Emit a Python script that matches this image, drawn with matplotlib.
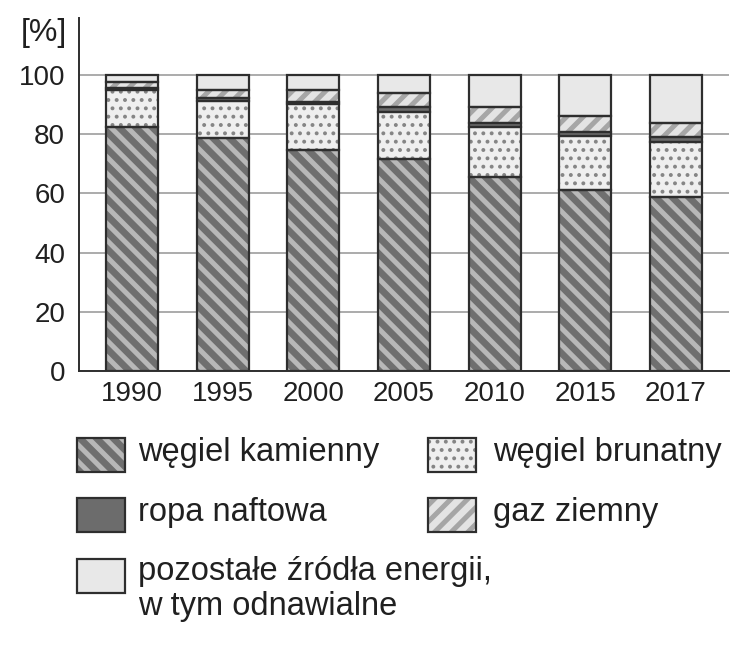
import numpy as np
import matplotlib
matplotlib.use("Agg")
import matplotlib.pyplot as plt
from matplotlib.patches import Rectangle

plt.rcParams['font.family'] = ['Liberation Sans', 'DejaVu Sans']

years = ['1990', '1995', '2000', '2005', '2010', '2015', '2017']
wegiel_kamienny = [82.3, 78.7, 74.7, 71.7, 65.4, 61.3, 58.7]
wegiel_brunatny = [12.7, 12.6, 15.4, 15.9, 17.2, 18.2, 18.8]
ropa_naftowa = [0.7, 0.8, 0.9, 1.5, 1.1, 1.4, 1.7]
gaz_ziemny = [2.0, 3.0, 3.9, 4.9, 5.6, 5.3, 4.7]
pozostale = [2.3, 4.9, 5.1, 6.0, 10.7, 13.8, 16.1]

labels = ['węgiel kamienny', 'węgiel brunatny', 'ropa naftowa', 'gaz ziemny',
          'pozostałe źródła energii,\nw tym odnawialne']

# (face, hatch colour, hatch, hatch linewidth)
styles = [
    ('#6f6f6f', '#b8b8b8', '\\\\', 3.6),
    ('#efefef', '#858585', '..', 1.6),
    ('#6c6c6c', '#6c6c6c', '', 1.0),
    ('#e4e4e4', '#a6a6a6', '//', 3.6),
    ('#e8e8e8', '#e8e8e8', '', 1.0),
]
edge = '#2e2e2e'
txt = '#202020'

fig = plt.figure(figsize=(7.46, 6.47), dpi=100)
ax = fig.add_axes([79 / 746, 1 - 371 / 647, 650 / 746, 353 / 647])

x = np.arange(len(years))
w = 0.575
series = [wegiel_kamienny, wegiel_brunatny, ropa_naftowa, gaz_ziemny, pozostale]
bottom = np.zeros(len(years))
for vals, (fc, hc, h, hlw) in zip(series, styles):
    plt.rcParams['hatch.linewidth'] = hlw
    ax.bar(x, vals, w, bottom=bottom, color=fc, edgecolor=hc, linewidth=0,
           hatch=h, zorder=2)
    ax.bar(x, vals, w, bottom=bottom, fill=False, edgecolor=edge,
           linewidth=1.6, zorder=3)
    bottom += np.array(vals)

ax.set_xlim(-0.585, 6.585)
ax.set_ylim(0, 119.3)
ax.set_yticks([0, 20, 40, 60, 80, 100])
ax.set_xticks(x)
ax.set_xticklabels(years)
ax.yaxis.grid(True, color='#ababab', linewidth=1.4, zorder=0)
ax.set_axisbelow(True)
for s in ['top', 'right']:
    ax.spines[s].set_visible(False)
for s in ['left', 'bottom']:
    ax.spines[s].set_color(edge)
    ax.spines[s].set_linewidth(1.4)
    ax.spines[s].set_zorder(4)
ax.tick_params(axis='y', length=0, pad=10, labelsize=20, labelcolor=txt)
ax.tick_params(axis='x', length=0, pad=7, labelsize=20, labelcolor=txt)

fig.text(67 / 746, 1 - 33 / 647, '[%]', ha='right', va='center',
         fontsize=23, color=txt)

# legend drawn by hand
W, H = 746, 647
items = [(77, 438, 138), (428, 438, 493), (77, 498, 138), (428, 498, 493),
         (77, 559, 138)]
for (px, py, tx), lab, (fc, hc, h, hlw) in zip(items, labels, styles):
    plt.rcParams['hatch.linewidth'] = hlw
    fig.add_artist(Rectangle((px / W, 1 - (py + 34) / H), 48 / W, 34 / H,
                             transform=fig.transFigure, facecolor=fc,
                             edgecolor=hc, linewidth=0, hatch=h))
    fig.add_artist(Rectangle((px / W, 1 - (py + 34) / H), 48 / W, 34 / H,
                             transform=fig.transFigure, fill=False,
                             edgecolor=edge, linewidth=1.6))
    if '\n' in lab:
        fig.text(tx / W, 1 - (py - 3) / H, lab, ha='left', va='top',
                 fontsize=23.5, color=txt, linespacing=1.15)
    else:
        fig.text(tx / W, 1 - (py + 15) / H, lab, ha='left', va='center',
                 fontsize=23.5, color=txt)

fig.savefig('out.png', dpi=100)
